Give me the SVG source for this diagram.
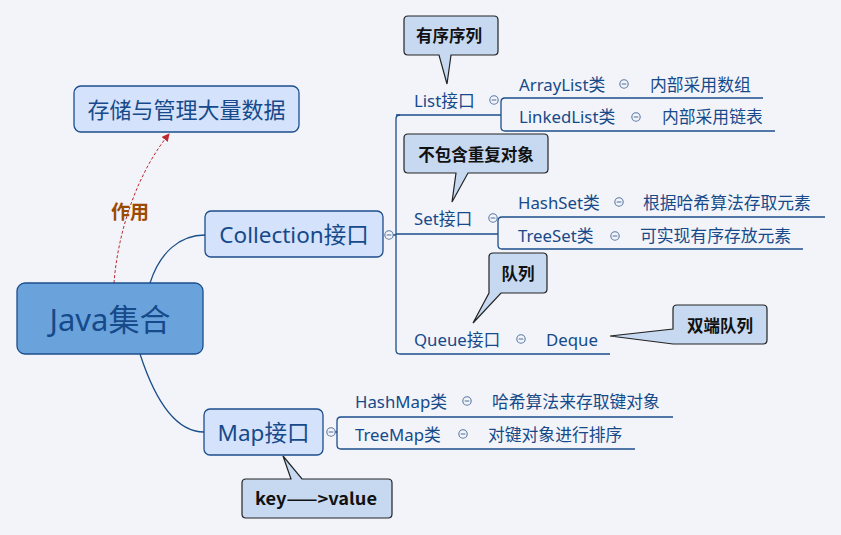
<svg xmlns="http://www.w3.org/2000/svg" width="841" height="535" viewBox="0 0 841 535">
<style>
.t{font-family:"Noto Sans","Noto Sans CJK SC",sans-serif;fill:#164a8a;dominant-baseline:central}
.s{font-size:16.8px}
.m{font-size:22.5px}
.c{font-family:"Noto Sans CJK SC","Noto Sans",sans-serif;font-weight:bold;font-size:16.5px;fill:#111;dominant-baseline:central;text-anchor:middle}
.box{fill:#d4e2fb;stroke:#1c4e8c;stroke-width:1.3}
.call{fill:#c6d9f1;stroke:#222;stroke-width:1.2}
.ln{fill:none;stroke:#1c4e8c;stroke-width:1.3}
.mk{fill:#f2f4f9;stroke:#5a7aa5;stroke-width:1.1}
</style>
<defs>
<marker id="ah" markerWidth="8" markerHeight="8" refX="7" refY="4" orient="auto" markerUnits="userSpaceOnUse">
<path d="M0,0 L8,4 L0,8 Z" fill="#c0282d"/>
</marker>
<g id="minus"><circle r="4.2" class="mk"/><line x1="-2.3" x2="2.3" y1="0" y2="0" stroke="#5a7aa5" stroke-width="1.1"/></g>
</defs>
<rect width="841" height="535" fill="#f2f4f9"/>

<g id="connectors">
<path class="ln" d="M150,283 C160,252 180,235 205,235"/>
<path class="ln" d="M140,354 C155,400 175,432 204,432"/>
<path d="M114,283 C118,230 138,172 169,134" fill="none" stroke="#c0282d" stroke-width="1" stroke-dasharray="3,2" marker-end="url(#ah)"/>
<path class="ln" d="M393,235 H396 M400,115 Q396,115 396,119 V350 Q396,354 400,354 H610"/>
<path class="ln" d="M396,115 H501 M505,98 Q501,98 501,102 V127 Q501,131 505,131 H775 M505,98 H763"/>
<path class="ln" d="M396,234 H498 M502,217 Q498,217 498,221 V245 Q498,249 502,249 H803 M502,217 H825"/>
<path class="ln" d="M327,432 H337 M341,417 Q337,417 337,421 V445 Q337,449 341,449 H635 M341,417 H673"/>
</g>

<g id="root">
<rect x="17" y="283" width="186" height="71" rx="8" fill="#6aa3dc" stroke="#1c4e8c" stroke-width="1.3"/>
<text class="t" x="110" y="319" font-size="31" text-anchor="middle" fill="#163d6e">Java集合</text>
</g>

<g id="purpose">
<rect class="box" x="74" y="86" width="225" height="46" rx="7"/>
<text class="t" x="186.5" y="109" font-size="22" text-anchor="middle">存储与管理大量数据</text>
</g>
<text x="130" y="210" font-family="Noto Sans CJK SC,sans-serif" font-weight="bold" font-size="19" fill="#9c4a00" text-anchor="middle" dominant-baseline="central">作用</text>

<g id="collection">
<rect class="box" x="205" y="211" width="178" height="46" rx="6"/>
<text class="t m" x="294" y="234" text-anchor="middle">Collection接口</text>
<use href="#minus" x="389" y="235"/>
</g>

<g id="list">
<text class="t s" x="414" y="100">List接口</text>
<use href="#minus" x="494" y="100"/>
</g>
<g id="arraylist">
<text class="t s" x="519" y="84">ArrayList类</text>
<use href="#minus" x="624" y="84"/>
<text class="t s" x="650" y="84">内部采用数组</text>
</g>
<g id="linkedlist">
<text class="t s" x="519" y="116">LinkedList类</text>
<use href="#minus" x="636" y="117"/>
<text class="t s" x="662" y="116">内部采用链表</text>
</g>

<g id="set">
<text class="t s" x="414" y="218">Set接口</text>
<use href="#minus" x="493" y="218"/>
</g>
<g id="hashset">
<text class="t s" x="518" y="202">HashSet类</text>
<use href="#minus" x="619" y="202"/>
<text class="t s" x="643" y="202">根据哈希算法存取元素</text>
</g>
<g id="treeset">
<text class="t s" x="518" y="235">TreeSet类</text>
<use href="#minus" x="615" y="236"/>
<text class="t s" x="640" y="235">可实现有序存放元素</text>
</g>

<g id="queue">
<text class="t s" x="414" y="339">Queue接口</text>
<use href="#minus" x="521" y="339"/>
<text class="t s" x="546" y="339">Deque</text>
</g>

<g id="map">
<rect class="box" x="204" y="409" width="119" height="46" rx="6"/>
<text class="t m" x="263.5" y="432" text-anchor="middle">Map接口</text>
<use href="#minus" x="331" y="432"/>
</g>
<g id="hashmap">
<text class="t s" x="355" y="401">HashMap类</text>
<use href="#minus" x="467" y="401"/>
<text class="t s" x="492" y="401">哈希算法来存取键对象</text>
</g>
<g id="treemap">
<text class="t s" x="355" y="434">TreeMap类</text>
<use href="#minus" x="463" y="434"/>
<text class="t s" x="488" y="434">对键对象进行排序</text>
</g>

<g id="callout-list">
<path class="call" d="M408,16 H494 Q498,16 498,20 V51 Q498,55 494,55 H451 L447,84 L439,55 H408 Q404,55 404,51 V20 Q404,16 408,16 Z"/>
<text class="c" x="449" y="35">有序序列</text>
</g>
<g id="callout-set">
<path class="call" d="M408,134 H544 Q548,134 548,138 V169 Q548,173 544,173 H468 L452,202 L456,173 H408 Q404,173 404,169 V138 Q404,134 408,134 Z"/>
<text class="c" x="476" y="154">不包含重复对象</text>
</g>
<g id="callout-queue">
<path class="call" d="M493,253 H543 Q547,253 547,257 V289 Q547,293 543,293 H501 L473,323 L489,293 V257 Q489,253 493,253 Z"/>
<text class="c" x="518" y="273">队列</text>
</g>
<g id="callout-deque">
<path class="call" d="M677,305 H763 Q767,305 767,309 V340 Q767,344 763,344 H673 L610,336 L673,329 V309 Q673,305 677,305 Z"/>
<text class="c" x="720" y="325">双端队列</text>
</g>
<g id="callout-map">
<path class="call" d="M246,479 H291 L283,456 L302,479 H388 Q392,479 392,483 V514 Q392,518 388,518 H246 Q242,518 242,514 V483 Q242,479 246,479 Z"/>
<text class="c" x="316" y="498" font-size="17.5" textLength="122" lengthAdjust="spacingAndGlyphs">key——&gt;value</text>
</g>
</svg>
